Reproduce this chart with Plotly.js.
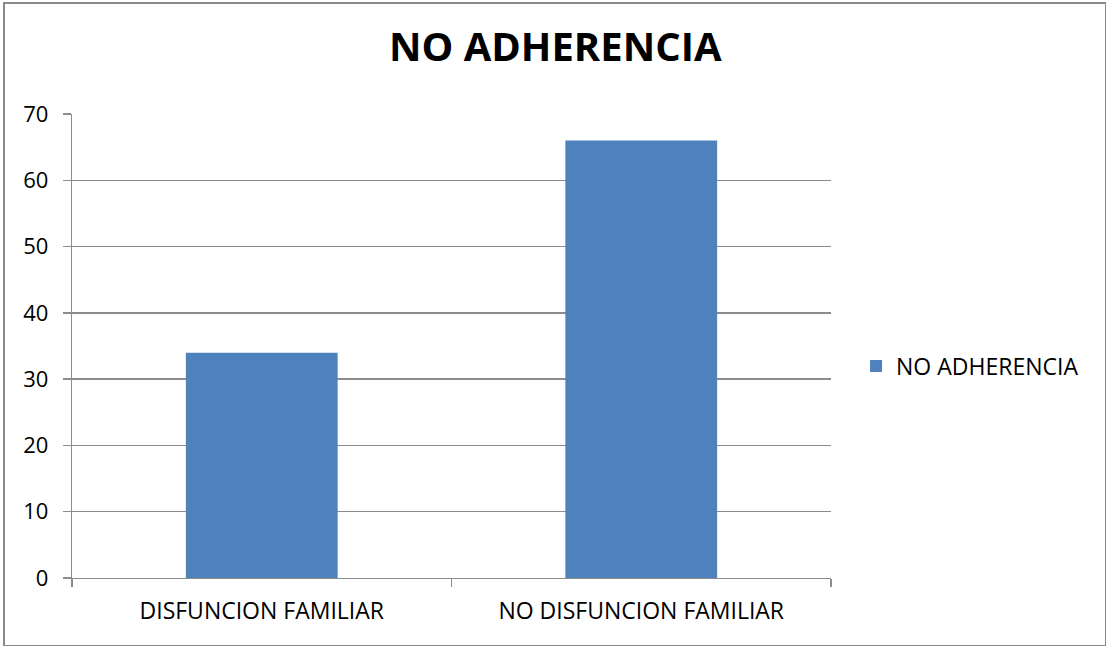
<!DOCTYPE html>
<html>
<head>
<meta charset="utf-8">
<script src="https://cdn.plot.ly/plotly-3.0.1.min.js"></script>
<style>
html,body{margin:0;padding:0;background:#fff;}
#wrap{position:relative;width:1106px;height:646px;}
#chart{position:absolute;left:0;top:0;width:1106px;height:646px;}
#frame{position:absolute;left:3px;top:2px;width:1100px;height:641px;border:2px solid #8a8a8a;pointer-events:none;}
</style>
</head>
<body>
<div id="wrap"><div id="chart"></div><div id="frame"></div></div>
<script>
const categories = ["DISFUNCION FAMILIAR", "NO DISFUNCION FAMILIAR"];
const seriesName = "NO ADHERENCIA";
const values = [34, 66];
const yTicks = [0, 10, 20, 30, 40, 50, 60, 70];
const chartTitle = "NO ADHERENCIA";

const FONT = "Open Sans, Noto Sans, sans-serif";
const trace = {
  type: "bar",
  x: categories,
  y: values,
  name: seriesName,
  width: 0.4,
  marker: {color: "#4f81bd"},
  showlegend: true,
  hoverinfo: "none"
};
const layout = {
  width: 1106, height: 646,
  paper_bgcolor: "rgba(0,0,0,0)", plot_bgcolor: "#fff",
  margin: {l: 72, r: 275, t: 114, b: 68, pad: 0},
  title: {text: "<b>" + chartTitle + "</b>", font: {family: FONT, size: 40, color: "#000"},
          x: 0.502, xanchor: "center", y: 0.928, yanchor: "middle", xref: "container", yref: "container"},
  font: {family: FONT, color: "#000"},
  xaxis: {
    type: "category", tickson: "boundaries", ticks: "outside", ticklen: 8, tickcolor: "#8c8c8c", tickwidth: 1.3,
    showline: true, linecolor: "#8c8c8c", linewidth: 1.3, showgrid: false,
    tickfont: {family: FONT, size: 23, color: "#000"}, ticklabelstandoff: 12, zeroline: false, fixedrange: true
  },
  yaxis: {
    range: [0, 70], tickvals: yTicks, ticktext: yTicks.map(String),
    ticks: "outside", ticklen: 8, tickcolor: "#8c8c8c", tickwidth: 1.3,
    showline: true, linecolor: "#8c8c8c", linewidth: 1.3,
    showgrid: true, gridcolor: "#8c8c8c", gridwidth: 1.3, zeroline: false,
    tickfont: {family: FONT, size: 22, color: "#000"}, ticklabelstandoff: 10, fixedrange: true
  },
  legend: {x: 1.033, xanchor: "left", y: 0.457, yanchor: "middle", font: {family: FONT, size: 23, color: "#000"},
           bgcolor: "rgba(0,0,0,0)", itemwidth: 30},
  showlegend: true
};
Plotly.newPlot("chart", [trace], layout, {displayModeBar: false, staticPlot: true});
</script>
</body>
</html>
